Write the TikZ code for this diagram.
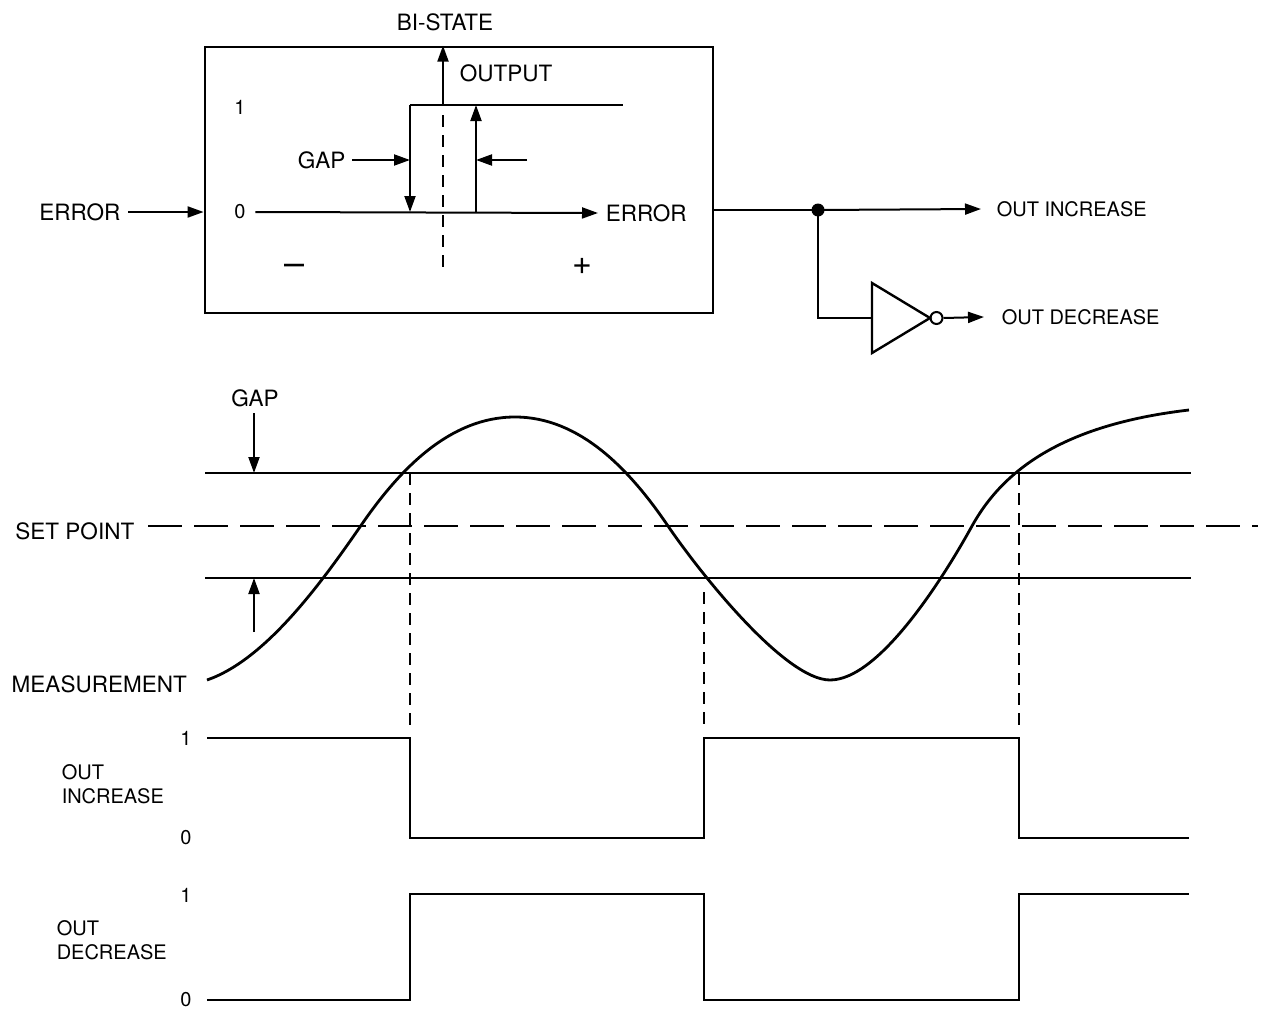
\documentclass[tikz,border=0pt]{standalone}
\usepackage{fontspec}
\setmainfont{TeX Gyre Heros}
\usetikzlibrary{arrows.meta}

\tikzset{
  lbl/.style={inner sep=0.75pt, font=\fontsize{22.5}{25}\selectfont},
  slbl/.style={inner sep=0.75pt, font=\fontsize{20}{24}\selectfont},
  dig/.style={inner sep=0.75pt, font=\fontsize{20}{22}\selectfont},
  tip/.style={-{Triangle[length=16pt,width=11pt]}},
  gapdash/.style={dash pattern=on 12pt off 8pt, line width=1.8pt},
  spdash/.style={dash pattern=on 34pt off 12pt, line width=2.2pt},
  wave/.style={line width=2.8pt, line join=miter},
}

\begin{document}
\begin{tikzpicture}[x=1pt,y=-1pt,line width=2pt]
\useasboundingbox (0,0) rectangle (1264,1009);

%Shape: Rectangle [id:bistate]
\node [draw, line width=2.8pt, minimum width=508pt, minimum height=266pt, inner sep=0pt] (bistate) at (459,180) {};
% Text Node
\node [lbl] (title) at (445,22) {BI-STATE};

% Text Node
\node [lbl, anchor=east] (errin) at (122,212) {ERROR};
%Straight Lines [id:errin]
\draw [tip] ([xshift=6pt]errin.east) -- (errin.east -| bistate.west);

%hysteresis characteristic inside the box
\coordinate (lowL) at (410,212);
\coordinate (upL) at (410,105);
\coordinate (upE) at (623,105);
\coordinate (lowR) at (476,212);
\coordinate (upR) at (476,105);
\coordinate (outB) at (443,105);
% Text Node
\node [dig] (one) at (240,107) {1};
% Text Node
\node [dig] (zero) at (240,212) {0};
% Text Node
\node [lbl, anchor=west] (errax) at (604,213) {ERROR};
%Straight Lines [id:axis]
\draw [tip] ([xshift=8pt]zero.east) -- ([xshift=-6pt]errax.west);
%Straight Lines [id:output]
\draw [tip] (outB) -- (outB |- bistate.north);
% Text Node
\node [lbl, anchor=west] (outlbl) at (458,73) {OUTPUT};
%Straight Lines [id:loop]
\draw (upL) -- (upE);
\draw [tip] (upL) -- (lowL);
\draw [tip] (lowR) -- (upR);
\draw [gapdash] (443,115) -- (443,272);
% Text Node
\node [lbl, anchor=east] (gapin) at (347,160) {GAP};
\draw [tip] ([xshift=5pt]gapin.east) -- (gapin.east -| lowL);
\coordinate (gapR) at (527,160);
\draw [tip] (gapR) -- (gapR -| lowR);
% Text Node
\node [lbl, font=\fontsize{36}{38}\selectfont] (minus) at (295,270) {–};
% Text Node
\node [lbl, font=\fontsize{34}{36}\selectfont] (plus) at (582,266) {+};

%outputs and inverter
\coordinate (junc) at (818,210);
\coordinate (notA) at (872,283);
\coordinate (notB) at (872,353);
\coordinate (notT) at (930,318);
\coordinate (notIn) at (872,318);
% Text Node
\node [slbl, anchor=west] (incr) at (995,209) {OUT INCREASE};
% Text Node
\node [slbl, anchor=west] (decr) at (1000,317) {OUT DECREASE};
\draw (junc -| bistate.east) -- (junc);
\fill (junc) circle (6.5pt);
\draw [tip] (junc) -- ([xshift=-14pt]incr.west);
\draw (junc) |- (notIn);
\draw [line width=2.4pt, line join=miter] (notA) -- (notT) -- (notB) -- cycle;
\node [draw, circle, minimum size=12pt, inner sep=0pt, line width=2pt] (bub) at (936.5,318) {};
\draw [tip] (bub.east) -- ([xshift=-16pt]decr.west);

%measurement chart
% Text Node
\node [lbl] (gaplo) at (255,398) {GAP};
\draw [tip] (254,413) -- (254,473);
\draw [tip] (254,632) -- (254,578);
\draw (205,473) -- (1191,473);
\draw (205,578) -- (1191,578);
% Text Node
\node [lbl, anchor=east] (sp) at (136,531) {SET POINT};
\draw [spdash] (148,526) -- (1258,526);
% Text Node
\node [lbl, anchor=west] (meas) at (10,684) {MEASUREMENT};
%Curve Lines [id:measurement]
\draw [line width=2.8pt] (207,680) .. controls (265,660) and (320,585) .. (362,524)
  .. controls (400,469) and (450,417) .. (515,417)
  .. controls (580,417) and (630,470) .. (668,526)
  .. controls (700,573) and (785,680) .. (830,680)
  .. controls (880,680) and (945,575) .. (972,526)
  .. controls (1002,472) and (1060,425) .. (1189,410);
\draw [gapdash] (410,473) -- (410,728);
\draw [gapdash] (704,592) -- (704,728);
\draw [gapdash] (1019,473) -- (1019,728);

%out increase trace
\node [dig] (inc1) at (186,738) {1};
\node [dig] (inc0) at (186,838) {0};
\node [slbl, anchor=west, align=left] (inclbl) at (60,784) {OUT\\INCREASE};
\draw [wave] (207,738) -- (410,738) -- (410,838) -- (704,838) -- (704,738) -- (1019,738) -- (1019,838) -- (1189,838);

%out decrease trace
\node [dig] (dec1) at (186,895) {1};
\node [dig] (dec0) at (186,1000) {0};
\node [slbl, anchor=west, align=left] (declbl) at (55,940) {OUT\\DECREASE};
\draw [wave] (207,1000) -- (410,1000) -- (410,894) -- (704,894) -- (704,1000) -- (1019,1000) -- (1019,894) -- (1189,894);

\end{tikzpicture}
\end{document}
